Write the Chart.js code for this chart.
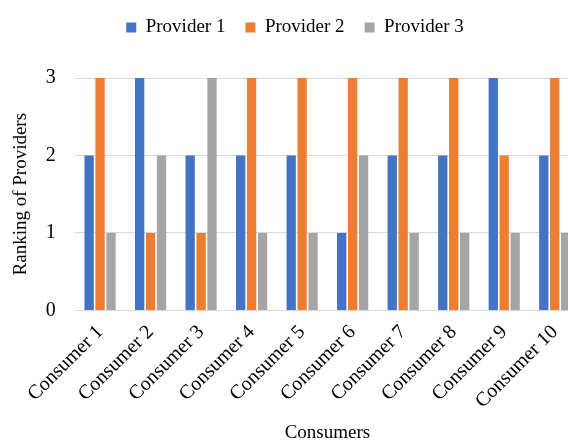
<!DOCTYPE html>
<html>
<head>
<meta charset="utf-8">
<script src="https://cdn.jsdelivr.net/npm/chart.js@4"></script>
<style>
	html, body { margin: 0; padding: 0; background: #fff; overflow: hidden; }
	#wrap { width: 580px; height: 444px; }
</style>
</head>
<body>
<div id="wrap"><canvas id="canvas_main" width="580" height="444"></canvas></div>
<script>
const categories = ["Consumer 1", "Consumer 2", "Consumer 3", "Consumer 4", "Consumer 5",
	"Consumer 6", "Consumer 7", "Consumer 8", "Consumer 9", "Consumer 10"];
const provider1 = [2, 3, 2, 2, 2, 1, 2, 2, 3, 2];
const provider2 = [3, 1, 1, 3, 3, 3, 3, 3, 2, 3];
const provider3 = [1, 2, 3, 1, 1, 2, 1, 1, 1, 1];
const yTicks = [0, 1, 2, 3];

const fontFamily = '"Liberation Serif", "Times New Roman", serif';

//extra room below the legend, like the original
const legendGap = {
	id: 'legendGap',
	beforeInit: function (chart) {
		const origFit = chart.legend.fit;
		chart.legend.fit = function () {
			origFit.bind(chart.legend)();
			this.height += 31;
		};
	}
};

//build datasets
const data = {
	labels: categories,
	datasets: [{
		label: 'Provider 1',
		backgroundColor: '#4472C4',
		data: provider1
	},
	{
		label: 'Provider 2',
		backgroundColor: '#ED7D31',
		data: provider2
	},
	{
		label: 'Provider 3',
		backgroundColor: '#A5A5A5',
		data: provider3
	}]
};

const config = {
	type: 'bar',
	data: data,
	plugins: [legendGap],
	options: {
		responsive: false,
		animation: false,
		categoryPercentage: 0.65,
		barPercentage: 0.85,
		layout: {
			padding: { left: 10, right: 0, top: -2, bottom: 0 }
		},
		plugins: {
			tooltip: { enabled: false },
			legend: {
				display: true,
				position: 'top',
				labels: {
					boxWidth: 10,
					boxHeight: 10,
					padding: 20,
					color: '#000',
					font: { size: 19, family: fontFamily }
				}
			}
		},
		scales: {
			x: {
				//rotated labels may hang past the plot edges
				afterFit: function (axis) {
					axis.paddingLeft = 0;
					axis.paddingRight = 0;
				},
				grid: { display: false },
				border: { display: false },
				ticks: {
					color: '#000',
					minRotation: 45,
					maxRotation: 45,
					padding: 2,
					font: { size: 20, family: fontFamily }
				},
				title: {
					display: true,
					text: 'Consumers',
					color: '#000',
					padding: { top: 6, bottom: 0 },
					font: { size: 19, family: fontFamily }
				}
			},
			y: {
				min: 0,
				max: 3,
				afterBuildTicks: function (axis) {
					axis.ticks = yTicks.map(function (v) { return { value: v }; });
				},
				//invisible tick marks only to push the labels off the plot
				grid: { color: '#D9D9D9', lineWidth: 1, drawTicks: true, tickLength: 9, tickColor: 'rgba(0,0,0,0)' },
				border: { display: false },
				ticks: {
					color: '#000',
					padding: 10,
					font: { size: 20, family: fontFamily }
				},
				title: {
					display: true,
					text: 'Ranking of Providers',
					color: '#000',
					padding: { top: 0, bottom: 3 },
					font: { size: 19, family: fontFamily }
				}
			}
		}
	}
};

new Chart(document.getElementById('canvas_main'), config);
</script>
</body>
</html>
